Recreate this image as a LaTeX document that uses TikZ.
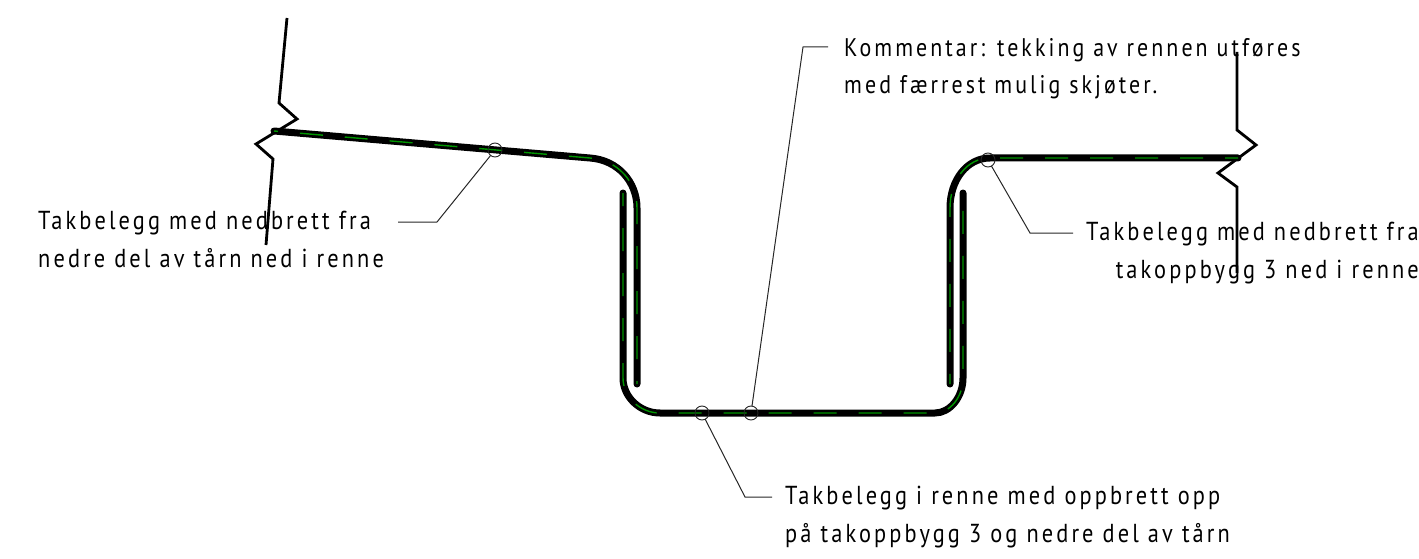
\documentclass[tikz,border=0pt]{standalone}
\usepackage{fontspec}
\setmainfont[LetterSpace=12,FakeStretch=0.86]{PT Sans}
\definecolor{memgreen}{RGB}{0,150,0}
\tikzset{
  roofline/.style={line width=7pt,black,line cap=round,line join=round,
    postaction={draw=memgreen,line width=1.4pt,line cap=butt,dash pattern=on 23pt off 22pt,dash phase=#1}},
  roofline/.default=0pt,
  breakline/.style={line width=2.8pt,black,line join=miter},
  leader/.style={line width=1pt,black!85},
  ring/.style={circle,draw=black!85,line width=0.9pt,minimum size=14pt,inner sep=0pt,outer sep=0pt},
  label/.style={font=\fontsize{26pt}{38pt}\selectfont,inner sep=0pt,text=black}
}
\begin{document}
\begin{tikzpicture}[x=1pt,y=-1pt]
\useasboundingbox (0,0) rectangle (1419,559);
% break lines
\draw[breakline] (287,18) -- (279,103) -- (297,119) -- (256,144) -- (273,159) -- (266,245);
\draw[breakline] (1237,52) -- (1237,130) -- (1256,145) -- (1218,173) -- (1237,187) -- (1237,273);
% membranes
\draw[roofline=19pt] (274,131) -- (590,158) .. controls (618,160) and (637,182) .. (637,208) -- (637,384);
\draw[roofline=10pt] (623,193) -- (623,378) .. controls (623,397) and (640,413) .. (660,413) -- (935,413) .. controls (950,413) and (963,397) .. (963,378) -- (963,193);
\draw[roofline=10pt] (1238,158) -- (990,158) .. controls (967,158) and (950,180) .. (950,208) -- (950,384);
% rings
\node[ring] (c1) at (495,150) {};
\node[ring] (c2) at (702,413) {};
\node[ring] (c3) at (751,413) {};
\node[ring] (c4) at (988,160) {};
% labels
\node[label,align=left,anchor=north west] (t1) at (38,211) {Takbelegg med nedbrett fra\\nedre del av tårn ned i renne};
\node[label,align=left,anchor=north west] (t2) at (785,486) {Takbelegg i renne med oppbrett opp\\på takoppbygg 3 og nedre del av tårn};
\node[label,align=left,anchor=north west,font=\fontsize{25.5pt}{37pt}\selectfont] (t3) at (844,38) {Kommentar: tekking av rennen utføres\\med færrest mulig skjøter.};
\node[label,align=right,anchor=north east] (t4) at (1419,222) {Takbelegg med nedbrett fra\\takoppbygg 3 ned i renne};
% leaders
\coordinate (e1) at (437,222); \coordinate (f1) at (398,222);
\coordinate (e2) at (745,497); \coordinate (f2) at (772,497);
\coordinate (e3) at (803,47);  \coordinate (f3) at (828,47);
\coordinate (e4) at (1030,233);\coordinate (f4) at (1073,233);
\draw[leader] (c1) -- (e1) -- (f1);
\draw[leader] (c2) -- (e2) -- (f2);
\draw[leader] (c3) -- (e3) -- (f3);
\draw[leader] (c4) -- (e4) -- (f4);
\end{tikzpicture}
\end{document}
